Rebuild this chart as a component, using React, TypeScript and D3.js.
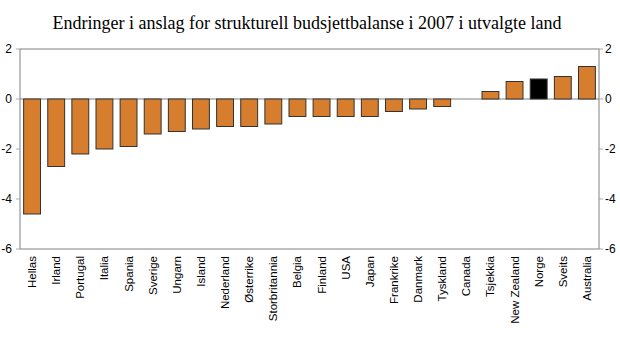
import React from "react";
import * as d3 from "d3";

const countries = ["Hellas","Irland","Portugal","Italia","Spania","Sverige","Ungarn","Island","Nederland","Østerrike","Storbritannia","Belgia","Finland","USA","Japan","Frankrike","Danmark","Tyskland","Canada","Tsjekkia","New Zealand","Norge","Sveits","Australia"];
const values = [-4.6,-2.7,-2.2,-2.0,-1.9,-1.4,-1.3,-1.2,-1.1,-1.1,-1.0,-0.7,-0.7,-0.7,-0.7,-0.5,-0.4,-0.3,0,0.3,0.7,0.8,0.9,1.3];
const highlight = ["Norge"];
const yTicks = [2,0,-2,-4,-6];
const title = "Endringer i anslag for strukturell budsjettbalanse i 2007 i utvalgte land";

export default function App() {
  const W = 620, H = 343;
  const left = 20, right = 599, top = 49, bottom = 249;
  const x = d3.scaleBand<string>().domain(countries).range([left, right]).paddingInner(0.3).paddingOuter(0.15);
  const y = d3.scaleLinear().domain([-6, 2]).range([bottom, top]);
  const font = "'Liberation Sans', Arial, sans-serif";
  return (
    <svg width={W} height={H} style={{ position: "absolute", left: 0, top: 0, background: "#fff" }}>
      <text x={307} y={29} textAnchor="middle" fontFamily="'Liberation Serif', 'Times New Roman', serif" fontSize={18}>{title}</text>
      <rect x={left} y={top} width={right - left} height={bottom - top} fill="none" stroke="#808080" strokeWidth={1} />
      <line x1={left} x2={right} y1={y(0)} y2={y(0)} stroke="#808080" strokeWidth={1} />
      {yTicks.map(t => (
        <g key={t}>
          <line x1={left - 4} x2={left} y1={y(t)} y2={y(t)} stroke="#aaa" />
          <line x1={right} x2={right + 4} y1={y(t)} y2={y(t)} stroke="#aaa" />
          <text x={12} y={y(t)} dy="0.35em" textAnchor="end" fontFamily={font} fontSize={12}>{t}</text>
          <text x={605} y={y(t)} dy="0.35em" textAnchor="start" fontFamily={font} fontSize={12}>{t}</text>
        </g>
      ))}
      {countries.map((c, i) => {
        const v = values[i];
        const y0 = y(Math.max(0, v));
        const h = Math.abs(y(v) - y(0));
        const isH = highlight.includes(c);
        return (
          <g key={c}>
            {v !== 0 && (
              <rect x={x(c)!} y={y0} width={x.bandwidth()} height={h} fill={isH ? "#000" : "#D67D2E"} stroke="#333" strokeWidth={1} />
            )}
            <text transform={`translate(${x(c)! + x.bandwidth() / 2},${bottom + 7}) rotate(-90)`} dy="0.35em" textAnchor="end" fontFamily={font} fontSize={11.5}>{c}</text>
          </g>
        );
      })}
    </svg>
  );
}
